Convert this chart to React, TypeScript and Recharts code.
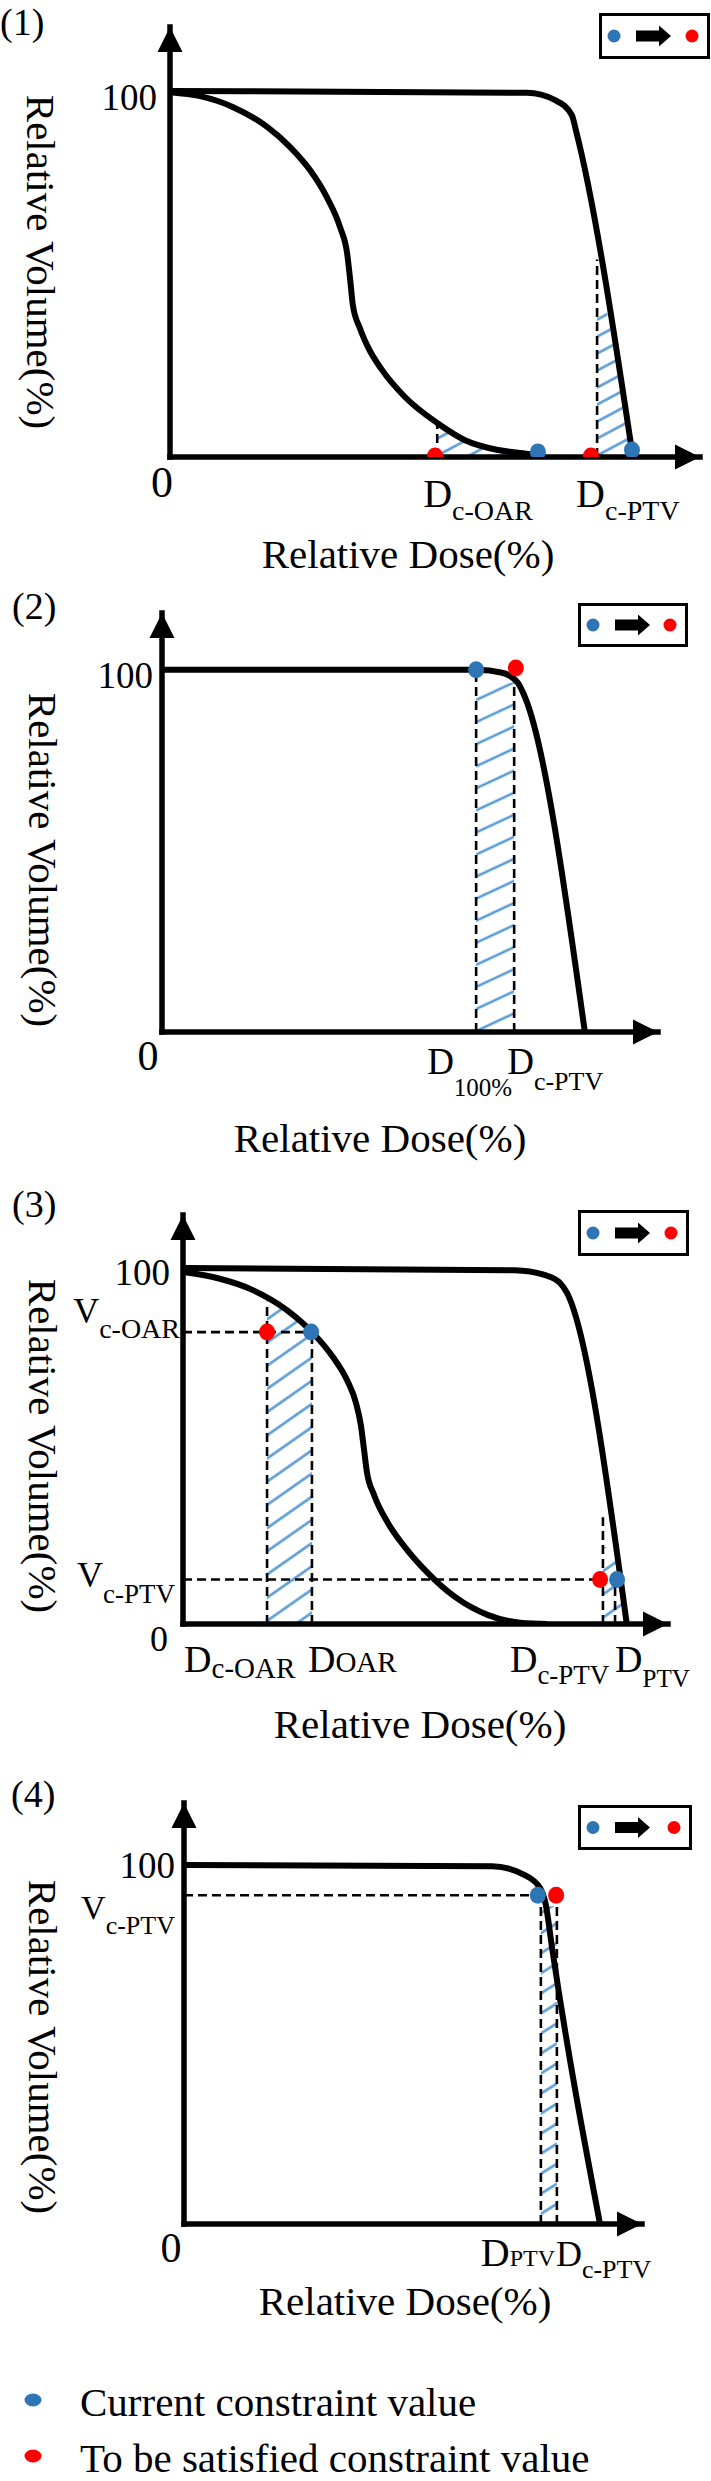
import React from "react";
import {
  ComposedChart,
  Line,
  Area,
  Scatter,
  XAxis,
  YAxis,
  ReferenceLine,
  ReferenceDot,
  Legend,
} from "recharts";

type Pt = [number, number];
type TickLabel = { main: string; sub?: string; inline?: boolean };

const FONT = '"Liberation Serif", "Times New Roman", serif';
const INK = "#000";
const BLUE = "#2e75b6";
const RED = "#ff0000";
const HATCH = "#5b9bd5";

// (1) constraints sitting on the tails of the OAR and PTV curves
const P1_PTV: Pt[] = [[0, 100], [80.8, 99.5], [87.2, 97.5], [91, 93.4], [91.9, 89.3], [104.8, 0]];
const P1_OAR: Pt[] = [
  [0, 99.7], [6.8, 98.6], [14.3, 95.6], [22, 90.2], [27.2, 84.7], [31.7, 78.4], [35.5, 71],
  [38.5, 62.8], [40.1, 55.7], [40.8, 48.4], [41.4, 41.5], [43, 35.2], [44.8, 30.1], [48, 23.8],
  [53.2, 16.4], [60.5, 9.3], [66.8, 4.6], [74.3, 1.9], [81.1, 0.8], [85, 0],
];
const P1_HATCH_OAR: Pt[] = [[60.5, 9.3], [66.8, 4.6], [74.3, 1.9], [79, 1.1]];
const P1_HATCH_PTV: Pt[] = [[96.7, 40], [98.9, 40], [104.8, 0]];
const P1_CURRENT: Pt[] = [[83.3, 1.4], [104.6, 1.9]];
const P1_TARGET: Pt[] = [[60, 0.3], [95.3, 0.3]];
const P1_GUIDES: [Pt, Pt][] = [[[60.5, 0], [60.5, 9.3]], [[96.7, 0], [96.7, 54]]];
const P1_X_TICKS = [60.5, 96.7];
const P1_X_LABELS: TickLabel[] = [{ main: "D", sub: "c-OAR" }, { main: "D", sub: "c-PTV" }];
const P1_Y_TICKS = [0, 100];
const P1_Y_LABELS: TickLabel[] = [{ main: "0" }, { main: "100" }];

// (2) D100% pushed to the shoulder of the PTV curve
const P2_PTV: Pt[] = [[0, 100], [76.2, 100], [82.3, 99.2], [86.1, 96.4], [87.8, 92.5], [102.3, 0]];
const P2_HATCH: Pt[] = [[76, 96.5], [85.2, 96.5]];
const P2_CURRENT: Pt[] = [[76, 100]];
const P2_TARGET: Pt[] = [[85.6, 100.5]];
const P2_GUIDES: [Pt, Pt][] = [[[76, 0], [76, 100]], [[85.2, 0], [85.2, 100]]];
const P2_X_TICKS = [76, 85.2];
const P2_X_LABELS: TickLabel[] = [{ main: "D", sub: "100%" }, { main: "D", sub: "c-PTV" }];
const P2_Y_TICKS = [0, 100];
const P2_Y_LABELS: TickLabel[] = [{ main: "0" }, { main: "100" }];

// (3) dose-volume constraints for OAR and PTV
const P3_PTV: Pt[] = [[0, 100], [82.1, 99.4], [89.6, 98], [93.3, 95.8], [95, 93], [109.8, 0]];
const P3_OAR: Pt[] = [
  [0, 98.9], [8.4, 97.2], [17.3, 93.8], [25.7, 88.2], [32.2, 81.7], [37.1, 75], [40.6, 68.5],
  [42.8, 62.1], [44, 55.9], [44.8, 48.9], [45.5, 42.7], [47.3, 36.2], [50.7, 28.4], [54.9, 21.6],
  [60.6, 14.3], [67.3, 7.6], [75.5, 2.5], [83.9, 0.3], [90.1, 0],
];
const P3_HATCH_OAR: Pt[] = [[20.8, 91.5], [25.7, 88.2], [31.9, 82]];
const P3_HATCH_PTV: Pt[] = [[103.9, 21.6], [106.4, 21.6], [109.8, 0]];
const P3_CURRENT: Pt[] = [[31.7, 82], [107.4, 12.5]];
const P3_TARGET: Pt[] = [[20.8, 82], [103.2, 12.5]];
const P3_GUIDES: [Pt, Pt][] = [
  [[0, 82], [31.7, 82]], [[20.8, 0], [20.8, 90.5]], [[31.9, 0], [31.9, 82]],
  [[0, 12.5], [103.2, 12.5]], [[103.9, 0], [103.9, 30]], [[106.9, 0], [106.9, 12.5]],
];
const P3_X_TICKS = [20.8, 31.9, 103.9, 107.4];
const P3_X_LABELS: TickLabel[] = [
  { main: "D", sub: "c-OAR" }, { main: "D", sub: "OAR", inline: true },
  { main: "D", sub: "c-PTV" }, { main: "D", sub: "PTV" },
];
const P3_Y_TICKS = [0, 12.5, 82, 100];
const P3_Y_LABELS: TickLabel[] = [
  { main: "0" }, { main: "V", sub: "c-PTV" }, { main: "V", sub: "c-OAR" }, { main: "100" },
];

// (4) PTV volume constraint near the shoulder
const P4_PTV: Pt[] = [[0, 100], [80.7, 99.7], [89.3, 97.2], [93.3, 93.6], [94.8, 88.9], [96.4, 77.2], [109, 0]];
const P4_HATCH: Pt[] = [[93.5, 88.5], [97.7, 88.5]];
const P4_CURRENT: Pt[] = [[92.7, 91.6]];
const P4_TARGET: Pt[] = [[97.5, 91.6]];
const P4_GUIDES: [Pt, Pt][] = [[[0, 91.6], [92.7, 91.6]], [[93.5, 0], [93.5, 91.6]], [[97.7, 0], [97.7, 91.6]]];
const P4_X_TICKS = [93.5, 97.7];
const P4_X_LABELS: TickLabel[] = [{ main: "D", sub: "PTV", inline: true }, { main: "D", sub: "c-PTV" }];
const P4_Y_TICKS = [0, 91.6, 100];
const P4_Y_LABELS: TickLabel[] = [{ main: "0" }, { main: "V", sub: "c-PTV" }, { main: "100" }];

const xy = (pts: Pt[]) => pts.map(([x, y]) => ({ x, y }));

type Fmt = { dx: number; dy: number; size: number; subDy?: number; subSize?: number; anchor?: string };

const LAYOUT = {
  p1: {
    top: 0, height: 580, x0: 170, xTip: 700, yTip: 27, yBase: 457, xMax: 120, yMax: 117.5,
    hatch: { gap: 15, angle: -28 }, num: { text: "(1)", x: 0, y: 35 },
    box: { left: 599, top: 13, width: 111, height: 46 },
    xTitle: { x: 408, y: 568 }, yTitle: { x: 41, y: 262 },
    xFmt: [
      { dx: -14, dy: 50, size: 40, subDy: 13, subSize: 28 },
      { dx: -21, dy: 50, size: 40, subDy: 13, subSize: 28 },
    ] as Fmt[],
    yFmt: [
      { dx: -8, dy: 40, size: 44, anchor: "middle" },
      { dx: -13, dy: 19, size: 37, anchor: "end" },
    ] as Fmt[],
  },
  p2: {
    top: 580, height: 590, x0: 162, xTip: 658, yTip: 613, yBase: 1032, xMax: 120, yMax: 115.7,
    hatch: { gap: 20, angle: -25 }, num: { text: "(2)", x: 12, y: 619 },
    box: { left: 578, top: 603, width: 110, height: 44 },
    xTitle: { x: 380, y: 1152 }, yTitle: { x: 43, y: 860 },
    xFmt: [
      { dx: -49, dy: 42, size: 37, subDy: 22, subSize: 25 },
      { dx: -7, dy: 42, size: 37, subDy: 16, subSize: 26 },
    ] as Fmt[],
    yFmt: [
      { dx: -14, dy: 38, size: 42, anchor: "middle" },
      { dx: -9, dy: 18, size: 37, anchor: "end" },
    ] as Fmt[],
  },
  p3: {
    top: 1170, height: 590, x0: 183, xTip: 668, yTip: 1215, yBase: 1624, xMax: 120, yMax: 114.9,
    hatch: { gap: 19, angle: -35 }, num: { text: "(3)", x: 12, y: 1217 },
    box: { left: 578, top: 1210, width: 111, height: 46 },
    xTitle: { x: 420, y: 1738 }, yTitle: { x: 43, y: 1446 },
    xFmt: [
      { dx: -83, dy: 48, size: 38, subDy: 6, subSize: 29 },
      { dx: -4, dy: 48, size: 38, subDy: 0, subSize: 29 },
      { dx: -93, dy: 48, size: 38, subDy: 12, subSize: 27 },
      { dx: -2, dy: 48, size: 38, subDy: 15, subSize: 25 },
    ] as Fmt[],
    yFmt: [
      { dx: -24, dy: 27, size: 36, anchor: "middle" },
      { dx: -8, dy: 7.5, size: 36, subDy: 16, subSize: 27, anchor: "end" },
      { dx: -3, dy: -9, size: 36, subDy: 15, subSize: 28, anchor: "end" },
      { dx: -13, dy: 17, size: 37, anchor: "end" },
    ] as Fmt[],
  },
  p4: {
    top: 1760, height: 570, x0: 184, xTip: 642, yTip: 1803, yBase: 2224, xMax: 120, yMax: 117.3,
    hatch: { gap: 17, angle: -32 }, num: { text: "(4)", x: 11, y: 1807 },
    box: { left: 578, top: 1805, width: 114, height: 45 },
    xTitle: { x: 405, y: 2315 }, yTitle: { x: 43, y: 2047 },
    xFmt: [
      { dx: -60, dy: 42, size: 40, subDy: 0, subSize: 24 },
      { dx: -1, dy: 42, size: 36, subDy: 12, subSize: 26 },
    ] as Fmt[],
    yFmt: [
      { dx: -13, dy: 38, size: 42, anchor: "middle" },
      { dx: -9, dy: 24, size: 34, subDy: 15, subSize: 26, anchor: "end" },
      { dx: -9, dy: 13, size: 37, anchor: "end" },
    ] as Fmt[],
  },
};

type Cfg = typeof LAYOUT.p1;

const axisStyle = { stroke: INK, strokeWidth: 5.5, strokeLinecap: "square" as const };

function tickRenderer(ticks: number[], labels: TickLabel[], fmt: Fmt[], anchor: string) {
  return (props: any) => {
    const i = ticks.indexOf(props.payload?.value);
    if (i < 0) return <g />;
    const l = labels[i];
    const f = fmt[i];
    return (
      <text
        x={props.x + f.dx}
        y={props.y + f.dy}
        fontFamily={FONT}
        fontSize={f.size}
        fill={INK}
        textAnchor={f.anchor ?? anchor}
      >
        {l.main}
        {l.sub ? (
          <tspan fontSize={f.subSize} dy={l.inline ? 0 : f.subDy}>
            {l.sub}
          </tspan>
        ) : null}
      </text>
    );
  };
}

const dotShape = (p: any) => <ellipse cx={p.cx} cy={p.cy} rx={8} ry={8.5} fill={p.fill} />;

const arrowRight = (p: any) => (
  <polygon points={`${p.cx},${p.cy} ${p.cx - 25},${p.cy - 12.5} ${p.cx - 25},${p.cy + 12.5}`} fill={INK} />
);
const arrowUp = (p: any) => (
  <polygon points={`${p.cx},${p.cy} ${p.cx - 12.5},${p.cy + 25} ${p.cx + 12.5},${p.cy + 25}`} fill={INK} />
);

function ShiftBox({ width, height }: { width: number; height: number }) {
  const w = width - 6;
  const h = height - 6;
  const cy = h / 2;
  return (
    <div style={{ width, height, boxSizing: "border-box", border: `3px solid ${INK}`, background: "#fff" }}>
      <svg width={w} height={h} style={{ display: "block" }}>
        <ellipse cx={12} cy={cy} rx={6.5} ry={6.5} fill={BLUE} />
        <path
          d={`M34,${cy - 5.5} H57 V${cy - 10.5} L69,${cy} L57,${cy + 10.5} V${cy + 5.5} H34 Z`}
          fill={INK}
        />
        <ellipse cx={w - 15} cy={cy} rx={6.5} ry={6.5} fill={RED} />
      </svg>
    </div>
  );
}

type PanelProps = {
  id: string;
  cfg: Cfg;
  ptv: Pt[];
  oar?: Pt[];
  hatches: { pts: Pt[]; curve: "monotone" | "linear" }[];
  current: Pt[];
  target: Pt[];
  guides: [Pt, Pt][];
  xTicks: number[];
  xLabels: TickLabel[];
  yTicks: number[];
  yLabels: TickLabel[];
};

function Panel(p: PanelProps) {
  const c = p.cfg;
  const patternId = `hatch-${p.id}`;
  const xTitle = () => (
    <text x={c.xTitle.x} y={c.xTitle.y - c.top} textAnchor="middle" fontFamily={FONT} fontSize={41} fill={INK}>
      Relative Dose(%)
    </text>
  );
  const yTitle = () => {
    const tx = c.yTitle.x;
    const ty = c.yTitle.y - c.top;
    return (
      <g>
        <text x={c.num.x} y={c.num.y - c.top} fontFamily={FONT} fontSize={38} fill={INK}>
          {c.num.text}
        </text>
        <text
          x={tx}
          y={ty}
          dy="0.35em"
          transform={`rotate(90 ${tx} ${ty})`}
          textAnchor="middle"
          fontFamily={FONT}
          fontSize={41}
          fill={INK}
        >
          Relative Volume(%)
        </text>
      </g>
    );
  };

  return (
    <div style={{ position: "absolute", left: 0, top: c.top }}>
      <ComposedChart
        width={711}
        height={c.height}
        margin={{ top: c.yTip - c.top, right: 711 - c.xTip, left: 0, bottom: 0 }}
      >
        <defs>
          <pattern
            id={patternId}
            patternUnits="userSpaceOnUse"
            width={20}
            height={c.hatch.gap}
            patternTransform={`rotate(${c.hatch.angle})`}
          >
            <line x1={0} y1={c.hatch.gap / 2} x2={20} y2={c.hatch.gap / 2} stroke={HATCH} strokeWidth={2.6} />
          </pattern>
        </defs>
        <XAxis
          type="number"
          dataKey="x"
          domain={[0, c.xMax]}
          allowDataOverflow
          ticks={p.xTicks}
          interval={0}
          tickLine={false}
          tickSize={0}
          tickMargin={0}
          height={c.top + c.height - c.yBase}
          axisLine={axisStyle}
          tick={tickRenderer(p.xTicks, p.xLabels, c.xFmt, "start")}
          label={xTitle}
        />
        <YAxis
          type="number"
          dataKey="y"
          domain={[0, c.yMax]}
          allowDataOverflow
          ticks={p.yTicks}
          interval={0}
          tickLine={false}
          tickSize={0}
          tickMargin={0}
          width={c.x0}
          axisLine={axisStyle}
          tick={tickRenderer(p.yTicks, p.yLabels, c.yFmt, "end")}
          label={yTitle}
        />
        {p.hatches.map((h, i) => (
          <Area
            key={`h${i}`}
            data={xy(h.pts)}
            dataKey="y"
            type={h.curve}
            fill={`url(#${patternId})`}
            fillOpacity={1}
            stroke="none"
            dot={false}
            activeDot={false}
            isAnimationActive={false}
          />
        ))}
        {p.guides.map(([a, b], i) => (
          <ReferenceLine
            key={`g${i}`}
            segment={[{ x: a[0], y: a[1] }, { x: b[0], y: b[1] }]}
            stroke={INK}
            strokeWidth={2.6}
            strokeDasharray="9 5"
            ifOverflow="visible"
          />
        ))}
        {p.oar ? (
          <Line
            data={xy(p.oar)}
            dataKey="y"
            type="monotone"
            stroke={INK}
            strokeWidth={6}
            dot={false}
            activeDot={false}
            isAnimationActive={false}
          />
        ) : null}
        <Line
          data={xy(p.ptv)}
          dataKey="y"
          type="monotone"
          stroke={INK}
          strokeWidth={6}
          dot={false}
          activeDot={false}
          isAnimationActive={false}
        />
        <Scatter data={xy(p.current)} fill={BLUE} shape={dotShape} isAnimationActive={false} />
        <Scatter data={xy(p.target)} fill={RED} shape={dotShape} isAnimationActive={false} />
        <ReferenceDot x={c.xMax} y={0} r={1} shape={arrowRight} ifOverflow="visible" />
        <ReferenceDot x={0} y={c.yMax} r={1} shape={arrowUp} ifOverflow="visible" />
        <Legend
          layout="horizontal"
          verticalAlign="middle"
          align="center"
          content={() => <ShiftBox width={c.box.width} height={c.box.height} />}
          wrapperStyle={{
            left: c.box.left,
            top: c.box.top - c.top,
            width: c.box.width,
            height: c.box.height,
          }}
        />
      </ComposedChart>
    </div>
  );
}

function KeyRow({ y, color, text }: { y: number; color: string; text: string }) {
  return (
    <g>
      <ellipse cx={33} cy={y - 16} rx={8.5} ry={6.5} fill={color} />
      <text x={80} y={y} fontFamily={FONT} fontSize={41} fill={INK}>
        {text}
      </text>
    </g>
  );
}

export default function App() {
  return (
    <div
      style={{
        position: "absolute",
        left: 0,
        top: 0,
        width: 711,
        height: 2481,
        background: "#fff",
        overflow: "hidden",
        fontFamily: FONT,
      }}
    >
      <Panel
        id="p1"
        cfg={LAYOUT.p1}
        ptv={P1_PTV}
        oar={P1_OAR}
        hatches={[
          { pts: P1_HATCH_OAR, curve: "monotone" },
          { pts: P1_HATCH_PTV, curve: "linear" },
        ]}
        current={P1_CURRENT}
        target={P1_TARGET}
        guides={P1_GUIDES}
        xTicks={P1_X_TICKS}
        xLabels={P1_X_LABELS}
        yTicks={P1_Y_TICKS}
        yLabels={P1_Y_LABELS}
      />
      <Panel
        id="p2"
        cfg={LAYOUT.p2}
        ptv={P2_PTV}
        hatches={[{ pts: P2_HATCH, curve: "linear" }]}
        current={P2_CURRENT}
        target={P2_TARGET}
        guides={P2_GUIDES}
        xTicks={P2_X_TICKS}
        xLabels={P2_X_LABELS}
        yTicks={P2_Y_TICKS}
        yLabels={P2_Y_LABELS}
      />
      <Panel
        id="p3"
        cfg={LAYOUT.p3}
        ptv={P3_PTV}
        oar={P3_OAR}
        hatches={[
          { pts: P3_HATCH_OAR, curve: "monotone" },
          { pts: P3_HATCH_PTV, curve: "linear" },
        ]}
        current={P3_CURRENT}
        target={P3_TARGET}
        guides={P3_GUIDES}
        xTicks={P3_X_TICKS}
        xLabels={P3_X_LABELS}
        yTicks={P3_Y_TICKS}
        yLabels={P3_Y_LABELS}
      />
      <Panel
        id="p4"
        cfg={LAYOUT.p4}
        ptv={P4_PTV}
        hatches={[{ pts: P4_HATCH, curve: "linear" }]}
        current={P4_CURRENT}
        target={P4_TARGET}
        guides={P4_GUIDES}
        xTicks={P4_X_TICKS}
        xLabels={P4_X_LABELS}
        yTicks={P4_Y_TICKS}
        yLabels={P4_Y_LABELS}
      />
      <svg width={711} height={151} style={{ position: "absolute", left: 0, top: 2330 }}>
        <KeyRow y={2416 - 2330} color={BLUE} text="Current constraint value" />
        <KeyRow y={2472 - 2330} color={RED} text="To be satisfied constraint value" />
      </svg>
    </div>
  );
}
